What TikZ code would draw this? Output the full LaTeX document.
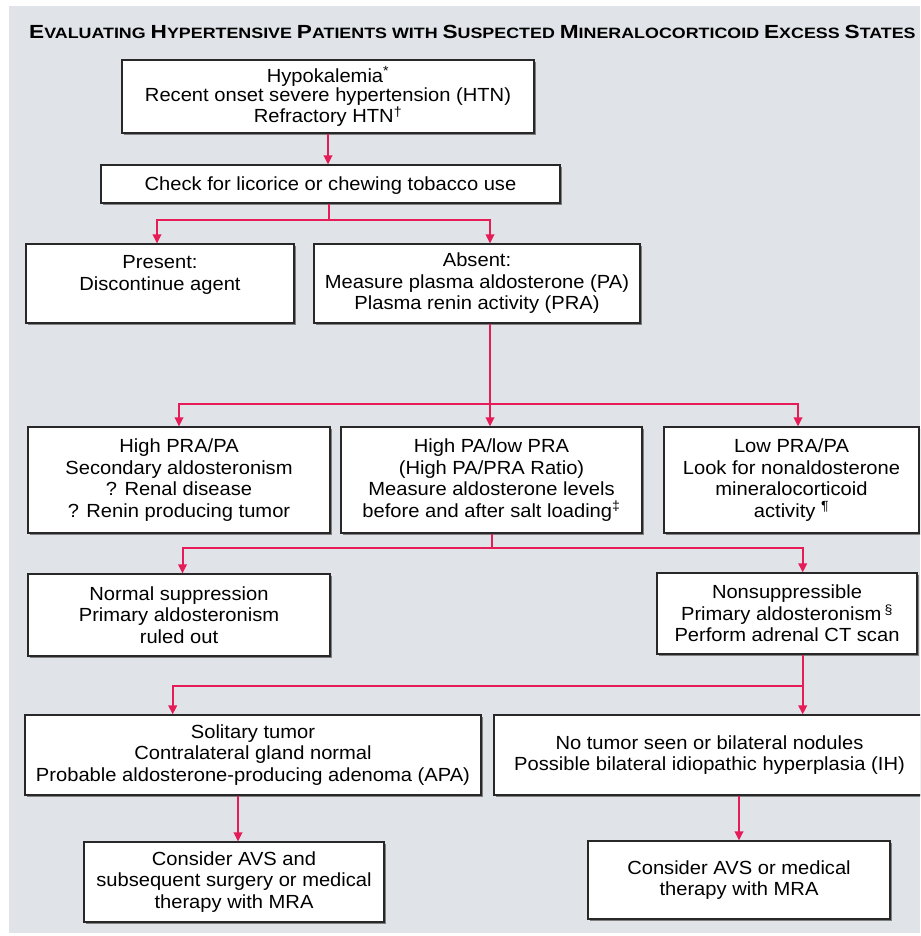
\documentclass[tikz,border=0pt]{standalone}
\usepackage{fontspec}
\usetikzlibrary{arrows.meta,shadows,calc}
\newfontfamily\bodyfont{Liberation Sans}[FakeStretch=1.06]
\newfontfamily\titlefont{Liberation Sans}[FakeStretch=1.19]
\definecolor{bgc}{RGB}{224,228,232}
\definecolor{arrc}{RGB}{230,28,88}
\definecolor{edgec}{RGB}{40,40,40}
\newcommand\BigC[1]{{\fontsize{19}{19}\selectfont #1}}
\newcommand\SmC[1]{{\fontsize{15}{15}\selectfont #1}}
\begin{document}
\begin{tikzpicture}[x=1pt,y=-1pt,
  box/.style={draw=edgec, line width=1.2pt, fill=white, inner sep=0pt, align=center,
    font=\bodyfont\fontsize{19}{21.5}\selectfont,
    drop shadow={shadow xshift=2pt, shadow yshift=-2pt, fill=black!50, opacity=1}},
  topbox/.style={box, font=\bodyfont\fontsize{19}{19.5}\selectfont},
  conn/.style={draw=arrc, line width=2pt},
  arr/.style={conn, -{Triangle[length=9pt,width=8.5pt]}}]
\useasboundingbox (0,0) rectangle (920,936);
\clip (0,0) rectangle (920,936);
\fill[white] (0,0) rectangle (920,936);
\fill[bgc] (9,6) rectangle (920,933);

\node[anchor=base west, inner sep=0pt, font=\titlefont\bfseries\fontsize{15}{15}\selectfont] (title) at (29,39)
 {\BigC{E}\SmC{VALUATING} \BigC{H}\SmC{YPERTENSIVE} \BigC{P}\SmC{ATIENTS} \SmC{WITH} \BigC{S}\SmC{USPECTED} \BigC{M}\SmC{INERALOCORTICOID} \BigC{E}\SmC{XCESS} \BigC{S}\SmC{TATES}};

\node[topbox, minimum width=412pt, minimum height=73pt] (top) at (328,96.5)
 {Hypokalemia\textsuperscript{*}\\Recent onset severe hypertension (HTN)\\Refractory HTN\textsuperscript{†}};
\node[box, minimum width=459pt, minimum height=38pt, text height=14pt, text depth=1pt] (check) at (330.5,184)
 {Check for licorice or chewing tobacco use};
\node[box, minimum width=268pt, minimum height=79pt] (present) at (160,283.5)
 {Present:\\Discontinue agent\\\mbox{}};
\node[box, minimum width=326pt, minimum height=79pt] (absent) at (477,283.5)
 {Absent:\\Measure plasma aldosterone (PA)\\Plasma renin activity (PRA)};
\node[box, minimum width=302pt, minimum height=106pt] (highpra) at (179,480)
 {High PRA/PA\\Secondary aldosteronism\\? Renal disease\\? Renin producing tumor};
\node[box, minimum width=301pt, minimum height=106pt] (highpa) at (491.5,480)
 {High PA/low PRA\\(High PA/PRA Ratio)\\Measure aldosterone levels\\before and after salt loading\textsuperscript{‡}};
\node[box, minimum width=255pt, minimum height=106pt] (lowpra) at (791.5,480)
 {Low PRA/PA\\Look for nonaldosterone\\mineralocorticoid\\activity \textsuperscript{¶}};
\node[box, minimum width=302pt, minimum height=82pt] (normal) at (179,615)
 {Normal suppression\\Primary aldosteronism\\ruled out};
\node[box, minimum width=260pt, minimum height=81pt] (nonsupp) at (787,613.5)
 {Nonsuppressible\\Primary aldosteronism\,\textsuperscript{§}\\Perform adrenal CT scan};
\node[box, minimum width=456pt, minimum height=80pt] (solitary) at (253,755)
 {Solitary tumor\\Contralateral gland normal\\Probable aldosterone-producing adenoma (APA)};
\node[box, minimum width=431pt, minimum height=80pt] (notumor) at (709.5,755)
 {No tumor seen or bilateral nodules\\Possible bilateral idiopathic hyperplasia (IH)};
\node[box, minimum width=300pt, minimum height=80pt] (avsand) at (234,882)
 {Consider AVS and\\subsequent surgery or medical\\therapy with MRA};
\node[box, minimum width=302pt, minimum height=78pt] (avsor) at (739,880)
 {Consider AVS or medical\\therapy with MRA};

\coordinate (j1) at (329,220);
\coordinate (j2) at (490,404);
\coordinate (j3) at (491.5,548);
\coordinate (j4) at (802.7,686);

\draw[arr] (top.south) -- (top.south |- check.north);

\draw[conn] (j1 |- check.south) -- (j1);
\draw[arr] (j1) -| ([xshift=-3pt]present.north);
\draw[arr] (j1) -| ([xshift=13pt]absent.north);

\draw[conn] (j2 |- absent.south) -- (j2);
\draw[arr] (j2) -| (highpra.north);
\draw[arr] (j2) -- (j2 |- highpa.north);
\draw[arr] (j2) -| ([xshift=6.5pt]lowpra.north);

\draw[conn] (j3 |- highpa.south) -- (j3);
\draw[arr] (j3) -| ([xshift=3.5pt]normal.north);
\draw[arr] (j3) -| ([xshift=15.7pt]nonsupp.north);

\draw[conn] (j4 |- nonsupp.south) -- (j4);
\draw[arr] (j4) -| ([xshift=-80.3pt]solitary.north);
\draw[arr] (j4) -- (j4 |- notumor.north);

\draw[arr] ([xshift=4pt]avsand.north |- solitary.south) -- ([xshift=4pt]avsand.north);
\draw[arr] (avsor.north |- notumor.south) -- (avsor.north);
\end{tikzpicture}
\end{document}
